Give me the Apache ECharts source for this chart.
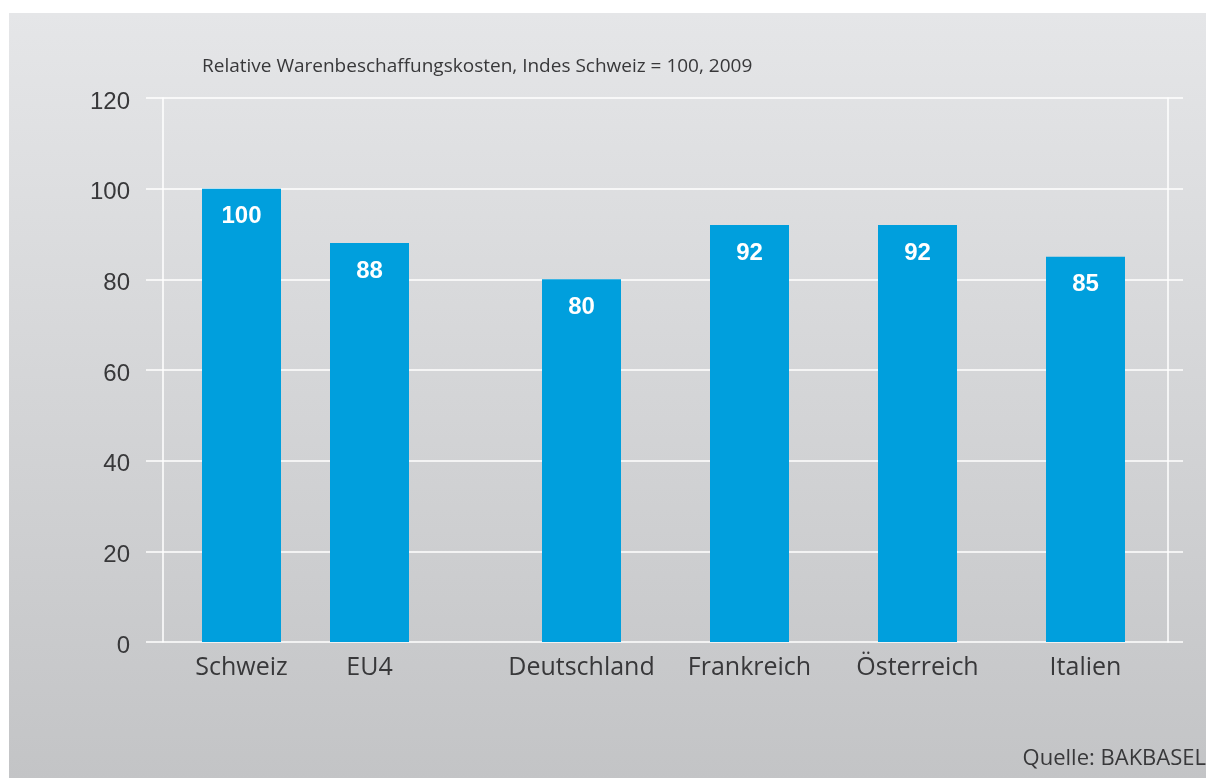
<!DOCTYPE html>
<html>
<head>
<meta charset="utf-8">
<script src="https://cdn.jsdelivr.net/npm/echarts@6/dist/echarts.min.js"></script>
<style>
  html, body { margin: 0; padding: 0; background: #ffffff; }
  #chart { width: 1206px; height: 778px; }
</style>
</head>
<body>
<div id="chart"></div>
<script>
// Relative Warenbeschaffungskosten, Index Schweiz = 100 (2009)
const aggregateNames = ['Schweiz', 'EU4'];
const aggregateValues = [100, 88];
const countryNames = ['Deutschland', 'Frankreich', 'Österreich', 'Italien'];
const countryValues = [80, 92, 92, 85];
const yMin = 0;
const yMax = 120;
const yStep = 20;

const titleText = 'Relative Warenbeschaffungskosten, Indes Schweiz = 100, 2009';
const sourceText = 'Quelle: BAKBASEL';

const FONT = '"Liberation Sans", Arial, sans-serif';
const FONT_TEXT = '"Open Sans", "Liberation Sans", sans-serif';
const TEXT_COLOR = '#38383a';
const BAR_COLOR = '#009fdd';

const chart = echarts.init(document.getElementById('chart'), null, { renderer: 'canvas' });

const hiddenY = (gridIndex) => ({
  type: 'value', gridIndex, min: yMin, max: yMax, interval: yStep,
  axisLine: { show: false }, axisTick: { show: false },
  axisLabel: { show: false }, splitLine: { show: false }
});

const barX = (gridIndex, names) => ({
  type: 'category', gridIndex, data: names,
  axisLine: { show: false }, axisTick: { show: false },
  axisLabel: { interval: 0, color: TEXT_COLOR, fontSize: 25, fontFamily: FONT_TEXT, margin: 13 }
});

const barSeries = (axisIndex, values) => ({
  type: 'bar', xAxisIndex: axisIndex, yAxisIndex: axisIndex,
  data: values, barWidth: 79,
  itemStyle: { color: BAR_COLOR },
  label: {
    show: true, position: 'insideTop', distance: 16,
    color: '#ffffff', fontSize: 24, fontWeight: 'bold', fontFamily: FONT
  },
  silent: true, animation: false
});

chart.setOption({
  animation: false,
  backgroundColor: 'transparent',
  graphic: [
    {
      type: 'rect', z: -10, silent: true,
      shape: { x: 9, y: 13, width: 1197, height: 765 },
      style: {
        fill: new echarts.graphic.LinearGradient(0, 0, 0, 1, [
          { offset: 0, color: '#e5e6e8' },
          { offset: 1, color: '#c3c4c6' }
        ])
      }
    },
    {
      type: 'text', left: 202, top: 57, silent: true,
      style: { text: titleText, fill: TEXT_COLOR, fontSize: 19, fontFamily: FONT_TEXT }
    },
    {
      type: 'text', right: 0, top: 748, silent: true,
      style: { text: sourceText, fill: TEXT_COLOR, fontSize: 22, fontFamily: FONT_TEXT }
    }
  ],
  grid: [
    // value scale with horizontal rules
    { left: 146, right: 23, top: 98, bottom: 136 },
    // frame verticals
    { left: 163, right: 38, top: 98, bottom: 136 },
    // Schweiz / EU4
    { left: 177.5, width: 256, top: 98, bottom: 136 },
    // single countries
    { left: 497.5, width: 672, top: 98, bottom: 136 }
  ],
  xAxis: [
    { type: 'value', gridIndex: 0, min: 0, max: 1, show: false },
    { type: 'value', gridIndex: 1, min: 0, max: 1, show: false },
    barX(2, aggregateNames),
    barX(3, countryNames)
  ],
  yAxis: [
    {
      type: 'value', gridIndex: 0, min: yMin, max: yMax, interval: yStep,
      axisLine: { show: false }, axisTick: { show: false },
      axisLabel: {
        margin: 16,
        formatter: '{v|{value}}',
        rich: { v: { color: TEXT_COLOR, fontSize: 24, fontFamily: FONT, padding: [8, 0, 0, 0] } }
      },
      splitLine: { show: true, lineStyle: { color: '#ffffff', width: 1.5 } }
    },
    {
      type: 'value', gridIndex: 1, min: yMin, max: yMax, position: 'left',
      axisLine: { show: true, lineStyle: { color: '#ffffff', width: 1.5 } },
      axisTick: { show: false }, axisLabel: { show: false }, splitLine: { show: false }
    },
    hiddenY(2),
    hiddenY(3),
    {
      type: 'value', gridIndex: 1, min: yMin, max: yMax, position: 'right',
      axisLine: { show: true, lineStyle: { color: '#ffffff', width: 1.5 } },
      axisTick: { show: false }, axisLabel: { show: false }, splitLine: { show: false }
    }
  ],
  series: [
    barSeries(2, aggregateValues),
    barSeries(3, countryValues)
  ]
});
</script>
</body>
</html>
